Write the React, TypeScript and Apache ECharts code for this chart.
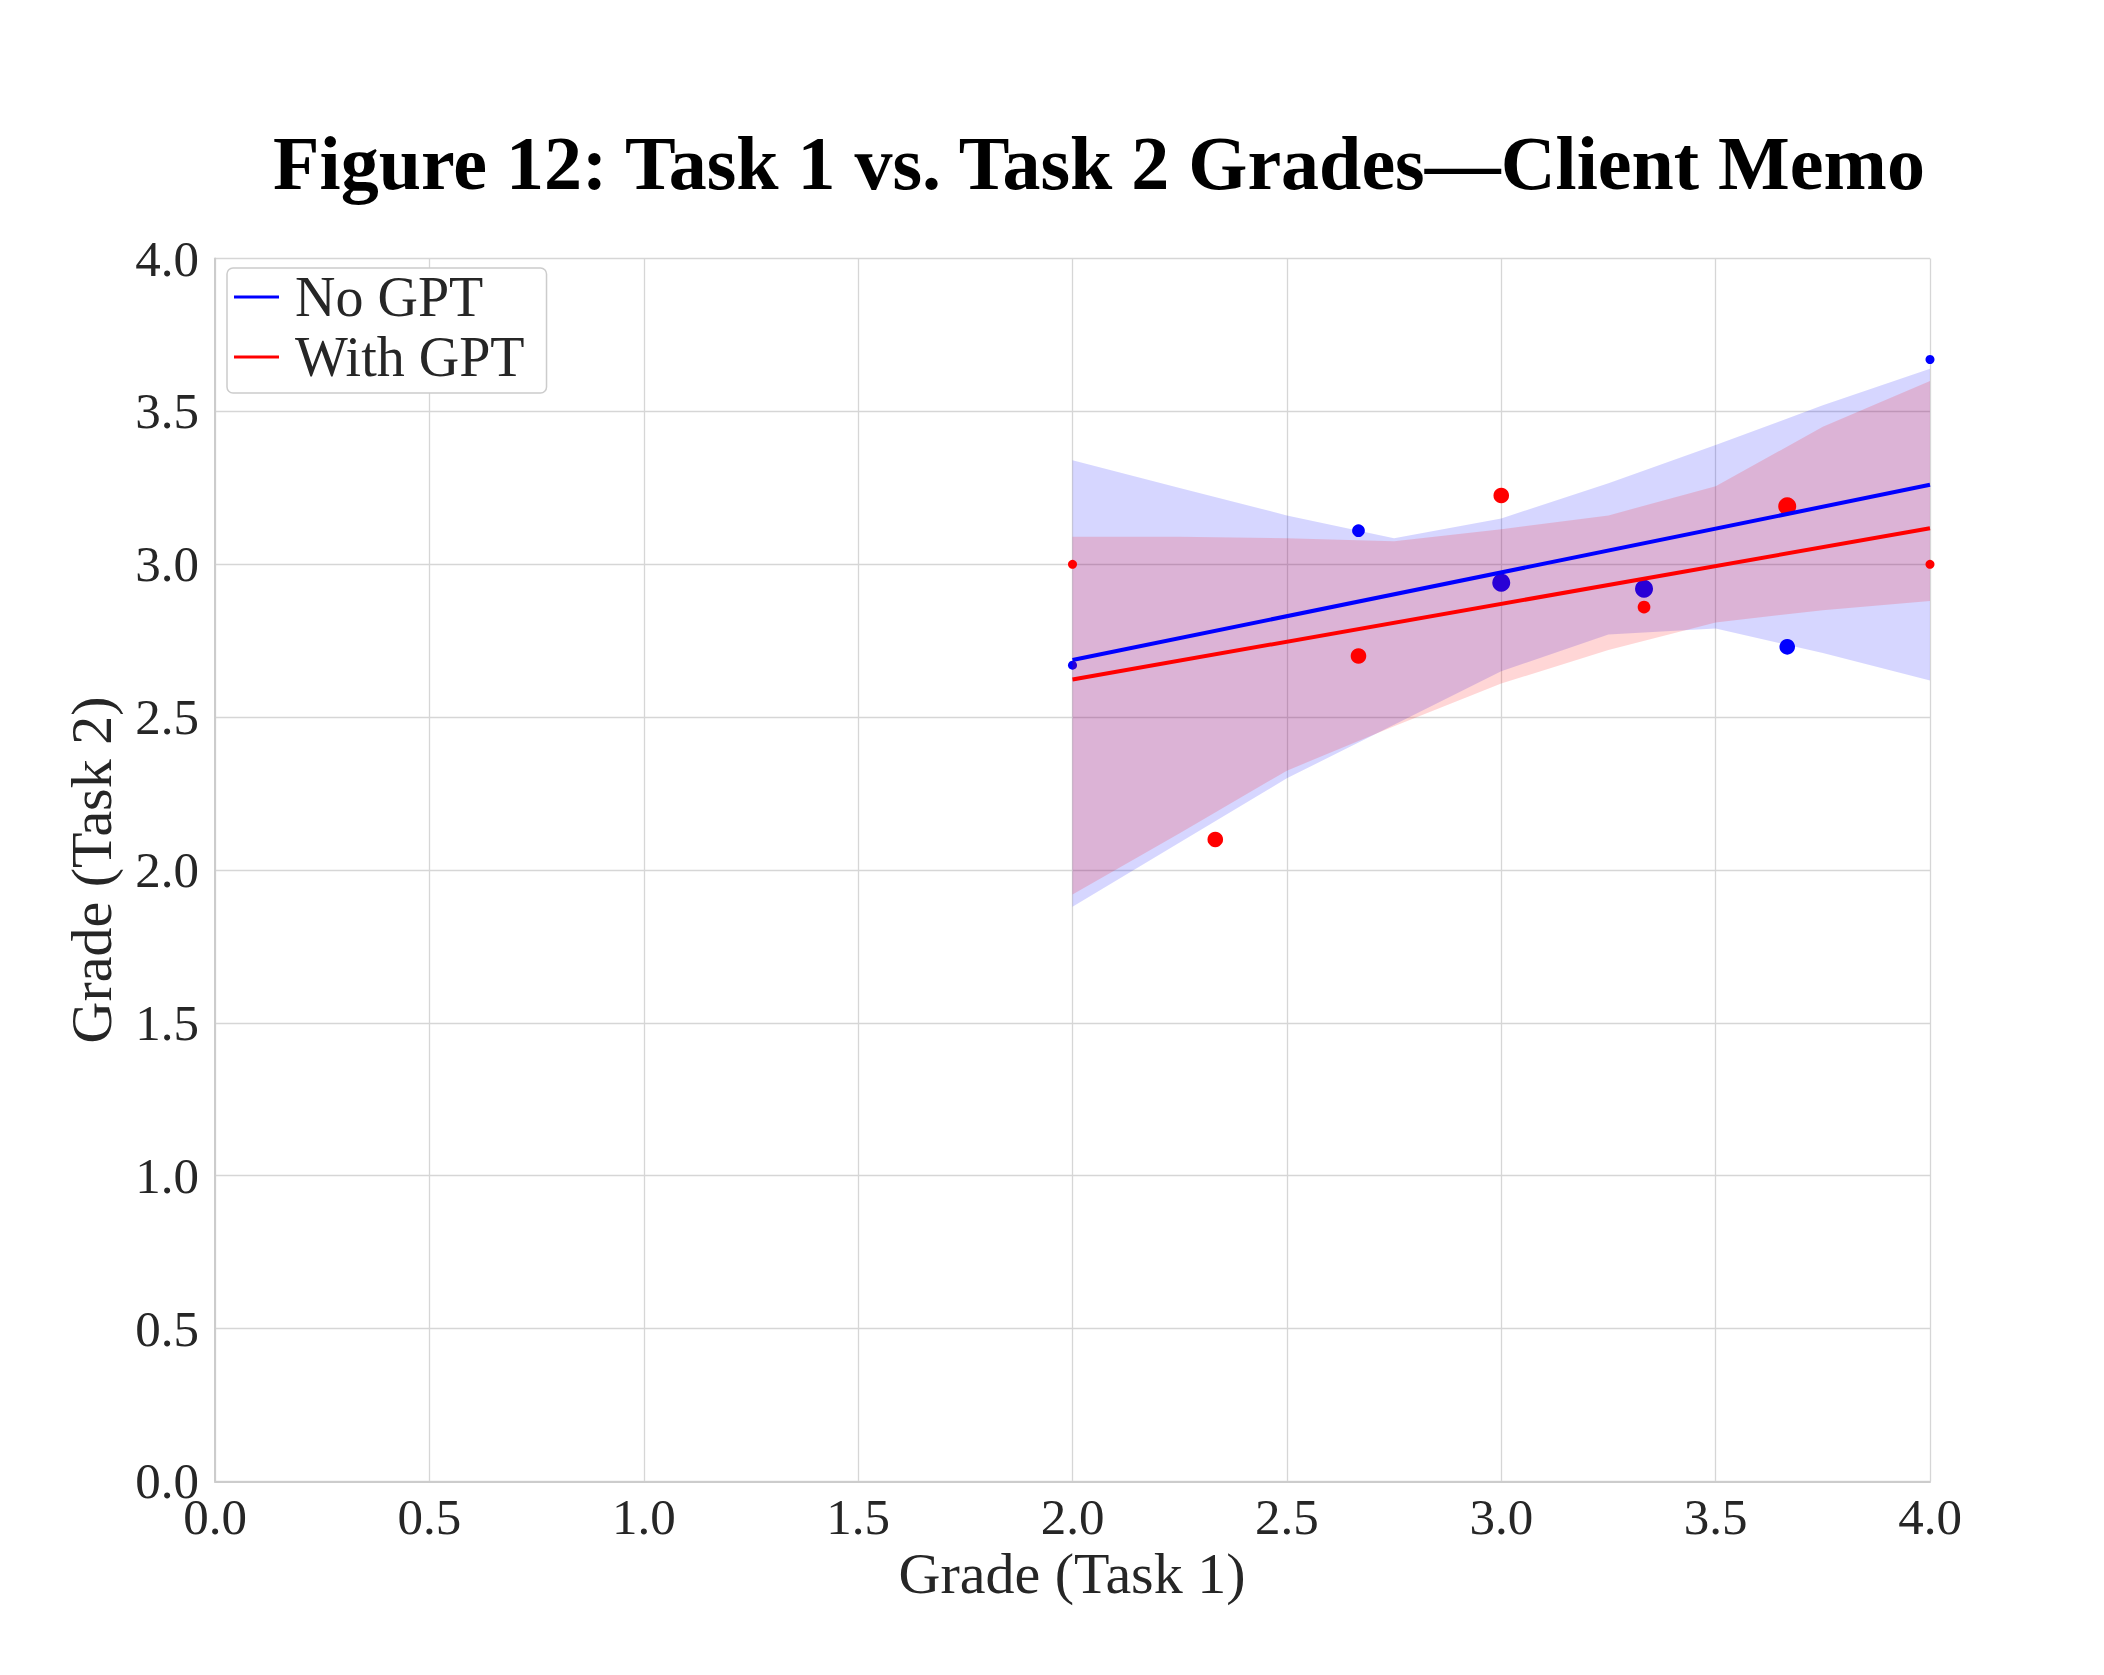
import React, { useEffect, useRef } from "react";
import * as echarts from "echarts";

// ---- data ----
const xTicks = [0, 0.5, 1, 1.5, 2, 2.5, 3, 3.5, 4];
const yTicks = [0, 0.5, 1, 1.5, 2, 2.5, 3, 3.5, 4];

const noGptX = [2.0, 2.667, 3.0, 3.333, 3.667, 4.0];
const noGptY = [2.67, 3.11, 2.94, 2.92, 2.73, 3.67];
const noGptCount = [1, 2, 4, 4, 3, 1];

const withGptX = [2.0, 2.333, 2.667, 3.0, 3.333, 3.667, 4.0];
const withGptY = [3.0, 2.1, 2.7, 3.225, 2.86, 3.19, 3.0];
const withGptCount = [1, 3, 3, 3, 2, 4, 1];

const fitX = [2.0, 4.0];
const noGptFit = [2.687, 3.26];
const withGptFit = [2.623, 3.118];

const bandX = [2.0, 2.25, 2.5, 2.75, 3.0, 3.25, 3.5, 3.75, 4.0];
const noGptUpper = [3.34, 3.25, 3.16, 3.085, 3.15, 3.265, 3.39, 3.52, 3.64];
const noGptLower = [1.88, 2.09, 2.3, 2.475, 2.65, 2.77, 2.79, 2.71, 2.62];
const withGptUpper = [3.09, 3.09, 3.085, 3.075, 3.115, 3.16, 3.255, 3.45, 3.6];
const withGptLower = [1.92, 2.12, 2.325, 2.47, 2.61, 2.72, 2.81, 2.85, 2.88];

const BLUE = "#0000ff";
const RED = "#ff0000";
const SERIF = "'Liberation Serif', 'DejaVu Serif', serif";
const TXT = "#262626";

function bandSeries(name: string, upper: number[], lower: number[], fill: string, z: number) {
  return {
    type: "custom",
    name,
    silent: true,
    z,
    clip: false,
    data: [[bandX[0], upper[0]]],
    renderItem: (_p: any, api: any) => {
      const pts: number[][] = [];
      for (let i = 0; i < bandX.length; i++) pts.push(api.coord([bandX[i], upper[i]]));
      for (let i = bandX.length - 1; i >= 0; i--) pts.push(api.coord([bandX[i], lower[i]]));
      return { type: "polygon", shape: { points: pts }, style: { fill } };
    },
  };
}

export default function App() {
  const ref = useRef<HTMLDivElement>(null);
  useEffect(() => {
    document.body.style.margin = "0";
    const chart = echarts.init(ref.current!, undefined, { renderer: "svg" });
    const gridLeft = 215, gridRight = 174, gridTop = 258.6, gridBottom = 193.6;
    chart.setOption({
      animation: false,
      backgroundColor: "#ffffff",
      grid: { left: gridLeft, right: gridRight, top: gridTop, bottom: gridBottom, containLabel: false },
      xAxis: {
        type: "value",
        min: 0,
        max: 4,
        interval: 0.5,
        axisLine: { show: true, lineStyle: { color: "#cccccc", width: 2 } },
        axisTick: { show: false },
        splitLine: { show: true, lineStyle: { color: "#d6d6d6", width: 1.3 } },
        axisLabel: {
          fontFamily: SERIF,
          fontSize: 51,
          color: TXT,
          margin: 10,
          formatter: (v: number) => (xTicks.includes(v) ? v.toFixed(1) : ""),
        },
      },
      yAxis: {
        type: "value",
        min: 0,
        max: 4,
        interval: 0.5,
        axisLine: { show: true, lineStyle: { color: "#cccccc", width: 2 } },
        axisTick: { show: false },
        splitLine: { show: true, lineStyle: { color: "#d6d6d6", width: 1.3 } },
        axisLabel: {
          fontFamily: SERIF,
          fontSize: 51,
          color: TXT,
          margin: 16,
          formatter: (v: number) => (yTicks.includes(v) ? v.toFixed(1) : ""),
        },
      },
      legend: {
        orient: "vertical",
        left: 227,
        top: 268,
        padding: [1, 22, 8, 7],
        itemGap: 4,
        itemWidth: 45,
        itemHeight: 3,
        backgroundColor: "#ffffff",
        borderColor: "#cccccc",
        borderWidth: 1.5,
        borderRadius: 6,
        textStyle: { fontFamily: SERIF, fontSize: 56, color: TXT, padding: [0, 0, 0, 11] },
        data: [
          { name: "No GPT", icon: "rect" },
          { name: "With GPT", icon: "rect" },
        ],
      },
      graphic: [
        {
          type: "text",
          x: 1099,
          y: 163,
          style: {
            text: "Figure 12: Task 1 vs. Task 2 Grades\u2014Client Memo",
            fontFamily: SERIF,
            fontWeight: "bold",
            fontSize: 76,
            fill: "#000000",
            textAlign: "center",
            textVerticalAlign: "middle",
          },
        },
        {
          type: "text",
          x: 1072,
          y: 1573,
          style: {
            text: "Grade (Task 1)",
            fontFamily: SERIF,
            fontSize: 58,
            fill: TXT,
            textAlign: "center",
            textVerticalAlign: "middle",
          },
        },
        {
          type: "text",
          x: 91,
          y: 870,
          rotation: Math.PI / 2,
          style: {
            text: "Grade (Task 2)",
            fontFamily: SERIF,
            fontSize: 58,
            fill: TXT,
            textAlign: "center",
            textVerticalAlign: "middle",
          },
        },
      ],
      series: [
        {
          type: "scatter",
          name: "No GPT points",
          z: 2,
          itemStyle: { color: BLUE, opacity: 1 },
          symbolSize: (d: number[]) => 9 * Math.sqrt(d[2]),
          data: noGptX.map((x, i) => [x, noGptY[i], noGptCount[i]]),
        },
        bandSeries("No GPT band", noGptUpper, noGptLower, "rgba(0,0,255,0.16)", 3),
        {
          type: "scatter",
          name: "With GPT points",
          z: 4,
          itemStyle: { color: RED, opacity: 1 },
          symbolSize: (d: number[]) => 9 * Math.sqrt(d[2]),
          data: withGptX.map((x, i) => [x, withGptY[i], withGptCount[i]]),
        },
        bandSeries("With GPT band", withGptUpper, withGptLower, "rgba(255,0,0,0.16)", 5),
        {
          type: "line",
          name: "No GPT",
          z: 6,
          color: BLUE,
          symbol: "none",
          lineStyle: { color: BLUE, width: 4 },
          data: fitX.map((x, i) => [x, noGptFit[i]]),
        },
        {
          type: "line",
          name: "With GPT",
          z: 7,
          color: RED,
          symbol: "none",
          lineStyle: { color: RED, width: 4 },
          data: fitX.map((x, i) => [x, withGptFit[i]]),
        },
      ],
    });
    return () => chart.dispose();
  }, []);
  return (
    <div
      ref={ref}
      style={{ position: "absolute", left: 0, top: 0, width: 2104, height: 1675 }}
    />
  );
}
